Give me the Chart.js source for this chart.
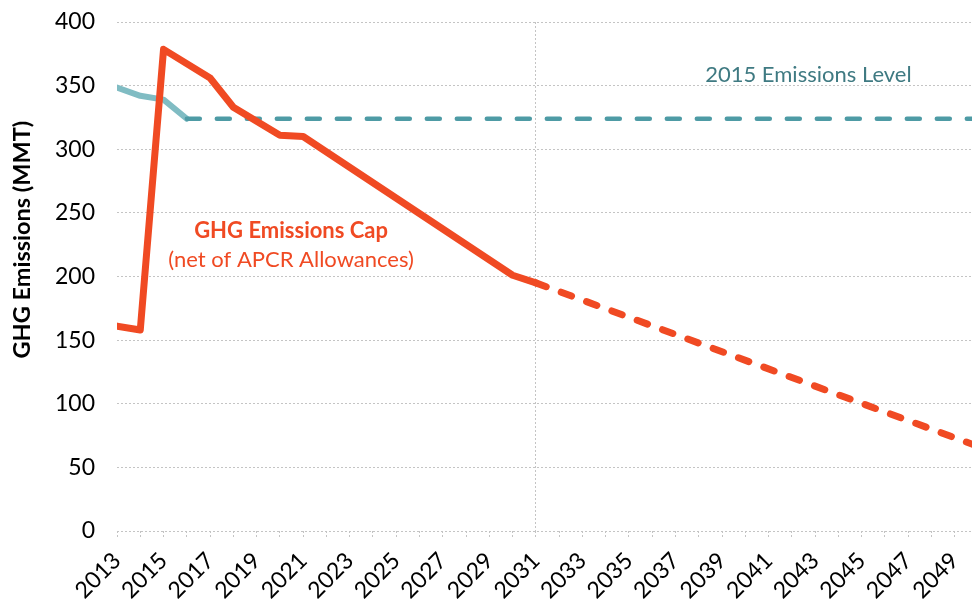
<!DOCTYPE html>
<html>
<head>
<meta charset="utf-8">
<script src="https://cdn.jsdelivr.net/npm/chart.js@4"></script>
<style>
    html, body { margin: 0; padding: 0; background: #fff; }
    #wrap { width: 972px; height: 599px; position: relative; }
</style>
</head>
<body>
<div id="wrap"><canvas id="capChart"></canvas></div>
<script>
// GHG cap net of APCR allowances (solid to 2031, dashed projection after)
const capYears  = [2013, 2014, 2015, 2017, 2018, 2020, 2021, 2030, 2031, 2050];
const capValues = [161, 158, 378.5, 356, 333, 311, 310, 201, 195, 66.5];

// 2015 emissions level (history, then flat dashed level)
const levelYears  = [2013, 2014, 2015, 2016, 2050];
const levelValues = [348.5, 342, 339, 324, 324];

const xTickLabels = ['2013', '2015', '2017', '2019', '2021', '2023', '2025', '2027', '2029', '2031',
                     '2033', '2035', '2037', '2039', '2041', '2043', '2045', '2047', '2049'];
const yTickValues = [0, 50, 100, 150, 200, 250, 300, 350, 400];

const RED = '#f04a23';
const TEAL_LIGHT = '#80bcc3';
const TEAL_DARK = '#4e9ba5';
const GRID = '#c4c4c4';
const FONT = 'Lato, "Open Sans", sans-serif';

// annotation text, placed in data coordinates
const notesPlugin = {
    id: 'chartNotes',
    afterDraw(chart) {
        const { ctx, scales: { x, y } } = chart;
        ctx.save();
        ctx.textAlign = 'center';
        ctx.textBaseline = 'alphabetic';
        ctx.fillStyle = RED;
        ctx.font = `bold 22px ${FONT}`;
        ctx.fillText('GHG Emissions Cap', x.getPixelForValue(2020.48), y.getPixelForValue(230.3));
        ctx.font = `22px ${FONT}`;
        ctx.fillText('(net of APCR Allowances)', x.getPixelForValue(2020.48), y.getPixelForValue(207.5));
        ctx.fillStyle = '#3f7a82';
        ctx.font = `22px ${FONT}`;
        ctx.fillText('2015 Emissions Level', x.getPixelForValue(2042.71), y.getPixelForValue(352.8));

        // y axis title
        ctx.translate(chart.chartArea.left - 95, y.getPixelForValue(229));
        ctx.rotate(-Math.PI / 2);
        ctx.textBaseline = 'middle';
        ctx.fillStyle = '#000';
        ctx.font = `bold 23.5px ${FONT}`;
        ctx.fillText('GHG Emissions (MMT)', 0, 0);
        ctx.restore();
    }
};

const toPoints = (xs, ys) => xs.map((v, i) => ({ x: v, y: ys[i] }));

new Chart(document.getElementById('capChart'), {
    type: 'line',
    data: {
        datasets: [
            {
                label: 'GHG Emissions Cap',
                data: toPoints(capYears, capValues),
                borderColor: RED,
                borderWidth: 7,
                borderCapStyle: 'round',
                borderJoinStyle: 'round',
                pointRadius: 0,
                segment: {
                    borderDash: c => c.p0.parsed.x >= 2031 ? [11, 16] : undefined
                }
            },
            {
                label: '2015 Emissions Level',
                data: toPoints(levelYears, levelValues),
                borderColor: TEAL_LIGHT,
                borderWidth: 6,
                borderCapStyle: 'round',
                borderJoinStyle: 'round',
                pointRadius: 0,
                segment: {
                    borderColor: c => c.p0.parsed.x >= 2016 ? TEAL_DARK : undefined,
                    borderWidth: c => c.p0.parsed.x >= 2016 ? 4.5 : undefined,
                    borderDash: c => c.p0.parsed.x >= 2016 ? [13, 17] : undefined
                }
            }
        ]
    },
    options: {
        responsive: true,
        maintainAspectRatio: false,
        animation: false,
        layout: { padding: { top: 22, left: 0, right: 0, bottom: 0 } },
        plugins: { legend: { display: false }, tooltip: { enabled: false } },
        scales: {
            x: {
                type: 'linear',
                min: 2013,
                max: 2049.74,
                afterBuildTicks: axis => {
                    const t = [];
                    for (let v = 2013; v <= 2049; v++) t.push({ value: v });
                    axis.ticks = t;
                },
                afterFit: axis => { axis.height = 68; axis.paddingLeft = 0; axis.paddingRight = 0; },
                grid: {
                    color: c => c.tick && c.tick.value === 2031 ? GRID : 'transparent',
                    tickColor: GRID,
                    tickLength: 7,
                    tickBorderDash: [2, 2]
                },
                border: { display: false, dash: [2, 2] },
                ticks: {
                    autoSkip: false,
                    minRotation: 45,
                    maxRotation: 45,
                    padding: 9,
                    color: '#000',
                    font: { family: FONT, size: 23 },
                    callback: v => xTickLabels.includes(String(v)) ? String(v) : ''
                }
            },
            y: {
                min: 0,
                max: 400,
                afterBuildTicks: axis => { axis.ticks = yTickValues.map(v => ({ value: v })); },
                afterFit: axis => { axis.width = 117; axis.paddingTop = 0; axis.paddingBottom = 0; },
                grid: { color: GRID, drawTicks: false },
                border: { display: false, dash: [2, 2] },
                ticks: { padding: 22, color: '#000', font: { family: FONT, size: 23 } }
            }
        }
    },
    plugins: [notesPlugin]
});
</script>
</body>
</html>
